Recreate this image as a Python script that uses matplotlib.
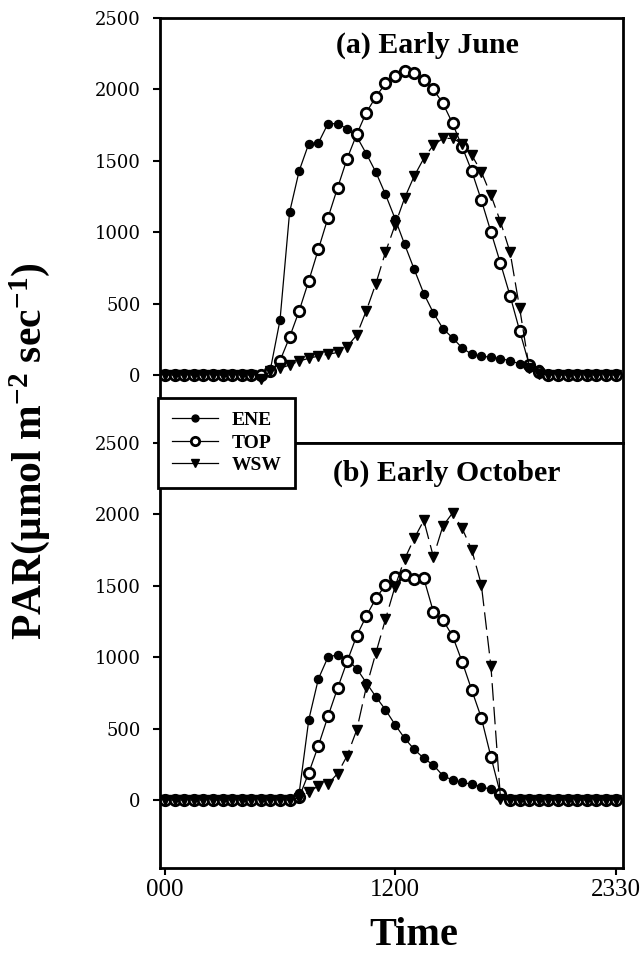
import matplotlib
matplotlib.use("Agg")
import matplotlib.pyplot as plt
from matplotlib.lines import Line2D

plt.rcParams['font.family'] = ['Liberation Serif', 'DejaVu Serif']
plt.rcParams['mathtext.fontset'] = 'custom'
plt.rcParams['mathtext.rm'] = 'Liberation Serif:bold'
plt.rcParams['mathtext.it'] = 'Liberation Serif:bold'
plt.rcParams['mathtext.default'] = 'rm'

# time of day in hours (half-hourly readings)
hours = [0, 0.5, 1, 1.5, 2, 2.5, 3, 3.5, 4, 4.5, 5, 5.5,
         6, 6.5, 7, 7.5, 8, 8.5, 9, 9.5, 10, 10.5, 11, 11.5,
         12, 12.5, 13, 13.5, 14, 14.5, 15, 15.5, 16, 16.5, 17, 17.5,
         18, 18.5, 19, 19.5, 20, 20.5, 21, 21.5, 22, 22.5, 23, 23.5]

# (a) early June
june_ene = [0, 0, 0, 0, 0, 0, 0, 0, 0, 0, 5, 40,
            385, 1140, 1430, 1620, 1625, 1760, 1760, 1725, 1670, 1550, 1420, 1265,
            1095, 915, 740, 570, 435, 325, 260, 190, 145, 133, 124, 115,
            100, 78, 50, 45, 0, 0, 0, 0, 0, 0, 0, 0]
june_top = [0, 0, 0, 0, 0, 0, 0, 0, 0, 0, 0, 25,
            100, 265, 450, 660, 880, 1100, 1310, 1515, 1685, 1838, 1948, 2042,
            2093, 2128, 2116, 2069, 2000, 1902, 1762, 1598, 1428, 1225, 1003, 782,
            555, 310, 70, 20, 0, 0, 0, 0, 0, 0, 0, 0]
june_wsw = [0, 0, 0, 0, 0, 0, 0, 0, 0, 0, -30, 30,
            47, 70, 98, 117, 133, 145, 158, 198, 280, 450, 640, 860,
            1050, 1240, 1393, 1517, 1610, 1657, 1657, 1620, 1540, 1423, 1260, 1073,
            860, 467, 50, 10, 0, 0, 0, 0, 0, 0, 0, 0]

# (b) early October
oct_ene = [0, 0, 0, 0, 0, 0, 0, 0, 0, 0, 0, 0,
           0, 0, 50, 562, 848, 1000, 1018, 985, 920, 821, 723, 632,
           528, 432, 355, 292, 245, 170, 140, 124, 110, 93, 75, 58,
           5, 0, 0, 0, 0, 0, 0, 0, 0, 0, 0, 0]
oct_top = [0, 0, 0, 0, 0, 0, 0, 0, 0, 0, 0, 0,
           0, 0, 20, 190, 380, 585, 782, 970, 1150, 1288, 1412, 1505,
           1563, 1575, 1545, 1552, 1318, 1260, 1148, 968, 770, 576, 303, 40,
           0, 0, 0, 0, 0, 0, 0, 0, 0, 0, 0, 0]
oct_wsw = [0, 0, 0, 0, 0, 0, 0, 0, 0, 0, 0, 0,
           0, 0, 15, 58, 98, 112, 185, 310, 490, 790, 1030, 1265,
           1495, 1688, 1832, 1958, 1703, 1920, 2010, 1902, 1752, 1508, 938, 10,
           0, 0, 0, 0, 0, 0, 0, 0, 0, 0, 0, 0]

panel_titles = ["(a) Early June", "(b) Early October"]
series_names = ["ENE", "TOP", "WSW"]
y_ticks = [0, 500, 1000, 1500, 2000, 2500]
x_ticks = [0, 12, 23.5]
x_labels = ["000", "1200", "2330"]

W, H = 641, 955
fig = plt.figure(figsize=(W / 100, H / 100), dpi=100)
ax1 = fig.add_axes([160 / W, 1 - 443 / H, 463 / W, 425 / H])
ax2 = fig.add_axes([160 / W, 1 - 868 / H, 463 / W, 425 / H])

ene_style = dict(color='black', lw=0.9, marker='o', ms=5.8, mfc='black', mec='black')
top_style = dict(color='black', lw=0.9, marker='o', ms=7.5, mfc='white', mec='black', mew=2)
wsw_style = dict(color='black', lw=0.9, marker='v', ms=6.5, mfc='black', mec='black',
                 dashes=(14, 5))

def draw_panel(ax, ene, top, wsw, title, tx, ty):
    ax.plot(hours, ene, **ene_style)
    ax.plot(hours, top, **top_style)
    ax.plot(hours, wsw, **wsw_style)
    ax.set_xlim(-0.26, 23.89)
    ax.set_ylim(-476, 2500)
    ax.set_yticks(y_ticks)
    ax.set_yticklabels([str(v) for v in y_ticks], family='DejaVu Serif', fontsize=13)
    ax.tick_params(axis='y', direction='out', length=5, width=1.5, pad=9)
    for s in ax.spines.values():
        s.set_linewidth(2)
    ax.text(tx, ty, title, transform=ax.transAxes, ha='center', va='center',
            fontsize=21.5, fontweight='bold')

draw_panel(ax1, june_ene, june_top, june_wsw, panel_titles[0], 0.577, 0.936)
draw_panel(ax2, oct_ene, oct_top, oct_wsw, panel_titles[1], 0.62, 0.929)

ax1.tick_params(axis='x', bottom=False, labelbottom=False)
ax2.set_xticks(x_ticks)
ax2.set_xticklabels(x_labels, fontsize=18)
ax2.tick_params(axis='x', direction='out', length=5, width=1.5, pad=3)

handles = [Line2D([], [], **{k: v for k, v in st.items() if k != 'dashes'})
           for st in (ene_style, top_style, wsw_style)]
handles[0].set_markersize(5)
handles[1].set_markersize(6)
handles[2].set_markersize(5.5)
leg = fig.legend(handles, series_names, loc='upper left',
                 bbox_to_anchor=(158 / W, 1 - 398 / H), borderaxespad=0,
                 prop={'weight': 'bold', 'size': 14}, handlelength=2.4,
                 handletextpad=0.7, labelspacing=0.25, borderpad=0.7,
                 fancybox=False, framealpha=1, edgecolor='black')
leg.get_frame().set_linewidth(2)

fig.text(30 / W, 1 - 451 / H, r"PAR(μmol m$^{-2}$ sec$^{-1}$)", rotation=90,
         ha='center', va='center', fontsize=30, fontweight='bold')
fig.text(414 / W, 1 - 935 / H, "Time", ha='center', va='center',
         fontsize=29, fontweight='bold')

fig.savefig("out.png", dpi=100)
